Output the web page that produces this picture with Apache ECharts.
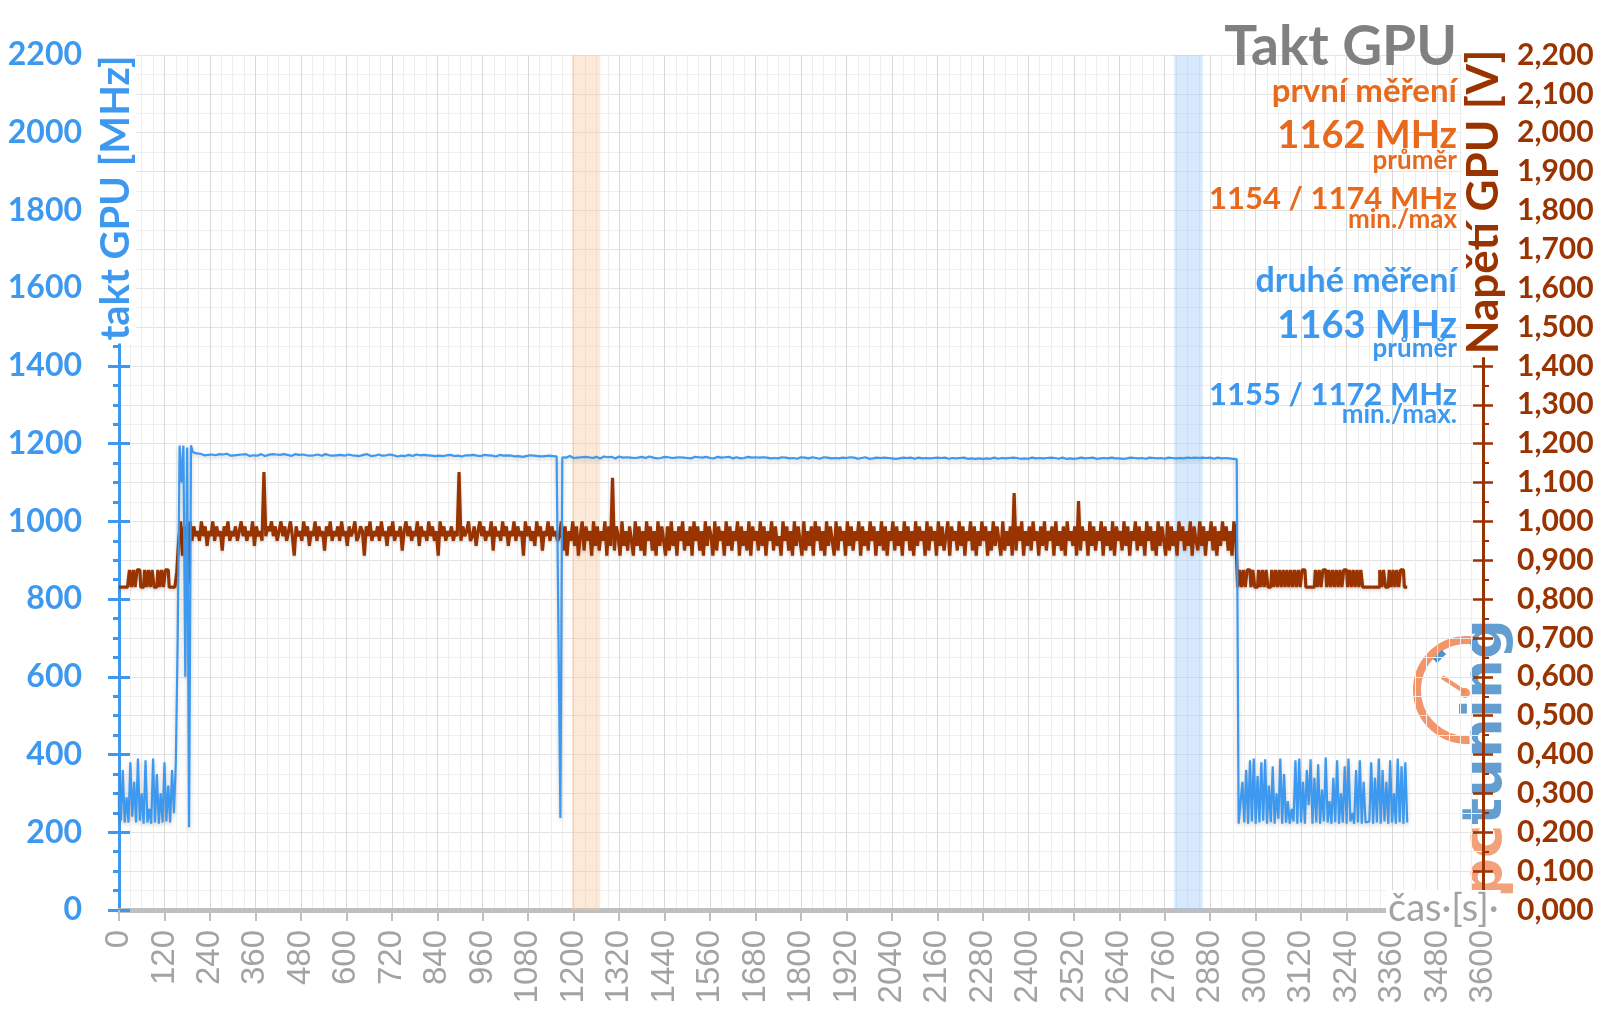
<!DOCTYPE html>
<html><head><meta charset="utf-8">
<script src="https://cdn.jsdelivr.net/npm/echarts@6/dist/echarts.min.js"></script>
<style>html,body{margin:0;padding:0;background:#fff}#c{width:1600px;height:1009px}</style>
</head><body><div id="c"></div>
<script>
// ---- data (sample step in seconds) ----
const STEP = 5;
const xTickInterval = 120;
// GPU clock, second measurement [MHz], t = 0, 5, 10 ... 3400 s
const clockMHz = [
310,230,360,225,290,225,380,240,330,225,390,230,300,222,385,225,260,222,390,225,350,222,300,225,380,228,320,225,360,250,
380,700,1195,1100,1195,600,1190,213,1196,1178,
1178,1175,1173,1174,1172,1170,1173,1171,1169,1172,1174,1170,1171,1173,1168,1172,1170,1174,1171,1169,1172,1170,1173,1171,
1170,1172,1169,1173,1171,1168,1172,1170,1174,1169,1171,1173,1170,1168,1172,1171,1169,1173,1170,1172,1168,1171,1170,1173,
1169,1171,1172,1168,1170,1173,1169,1171,1170,1172,1168,1170,1173,1169,1171,1170,1168,1172,1170,1169,1171,1173,1168,1170,
1171,1169,1172,1170,1168,1171,1173,1169,1170,1172,1168,1170,1171,1169,1172,1168,1170,1171,1169,1173,1170,1168,1171,1169,
1170,1172,1168,1169,1171,1170,1168,1172,1169,1170,1171,1167,1170,1169,1172,1168,1170,1171,1169,1168,1170,1172,1169,1170,
1168,1171,1169,1170,1167,1169,1171,1168,1170,1169,1172,1168,1169,1170,1167,1171,1169,1168,1170,1169,1171,1167,1169,1170,
1168,1170,1169,1171,1167,1169,1170,1168,1169,1171,1167,1170,1168,1169,1170,1167,1169,1171,1168,1169,1167,1170,1168,1169,
1170,1167,1169,1168,1170,1166,1169,1168,1167,1170,1168,1169,1166,1168,1170,1167,1169,1168,1166,1169,1167,1168,1170,1167,
1168,
237,
1165,1167,1164,1166,1168,1165,1163,1166,1164,1167,1165,1163,1166,1164,1165,1167,1163,1165,1166,1164,1162,1165,1167,1164,
1165,1163,1166,1164,1162,1165,1167,1163,1164,1166,1165,1162,1164,1166,1163,1165,1164,1162,1166,1164,1163,1165,1167,1163,
1164,1166,1162,1165,1163,1164,1166,1162,1165,1164,1163,1166,1164,1162,1165,1163,1164,1166,1163,1165,1162,1164,1166,1163,
1165,1163,1164,1162,1166,1164,1163,1165,1162,1164,1166,1163,1164,1162,1165,1163,1166,1164,1162,1163,1165,1164,1162,1165,
1163,1164,1166,1162,1164,1163,1165,1162,1164,1163,1165,1161,1164,1163,1162,1165,1163,1164,1162,1163,1165,1162,1164,1163,
1162,1165,1163,1164,1161,1163,1165,1162,1164,1163,1162,1164,1165,1162,1163,1164,1161,1163,1165,1162,1164,1163,1162,1164,
1163,1165,1162,1163,1164,1161,1163,1162,1165,1163,1164,1162,1161,1164,1163,1162,1165,1163,1161,1164,1162,1163,1164,1162,
1163,1161,1164,1162,1163,1165,1162,1163,1161,1164,1162,1163,1164,1161,1163,1162,1164,1163,1161,1162,1164,1163,1162,1161,
1163,1164,1162,1161,1163,1162,1164,1161,1163,1162,1164,1163,1161,1162,1163,1164,1162,1161,1163,1162,1164,1162,1161,1163,
1162,1164,1161,1163,1162,1163,1161,1164,1162,1163,1161,1162,1164,1163,1161,1162,1163,1164,1162,1161,1163,1162,1164,1161,
1163,1162,1161,1164,1162,1163,1161,1162,1164,1163,1162,1161,1163,1164,1162,1161,1163,1162,1164,1161,1163,1162,1161,1163,
1164,1162,1161,1163,1162,1164,1161,1163,1162,1161,1164,1163,1162,1161,1163,1162,1164,1162,1161,1163,1162,1164,1163,1161,
1162,1163,1164,1161,1162,1163,1162,1164,1161,1163,1162,1161,1164,1162,1163,1161,1162,1164,1163,1162,1161,1163,1164,1162,
1163,1161,1162,1164,1163,1162,1161,1163,1164,1162,1163,1161,1162,1164,1163,1165,1162,1163,1164,1162,1163,1161,1164,1162,
1163,1162,1164,1161,1163,1162,1164,1163,1161,1162,1164,1163,1162,1161,1163,1164,1162,1163,1161,1162,1160,
222,
222,330,225,360,222,385,228,390,222,345,225,380,230,388,222,320,226,370,222,300,235,390,222,350,
225,280,222,260,228,385,222,390,225,330,222,360,270,388,222,340,225,375,222,310,228,392,225,280,
222,340,226,385,222,300,225,370,222,390,228,250,222,360,225,385,222,330,225,222,228,380,222,340,
225,390,222,360,228,330,222,385,225,300,222,390,226,370,222,380,225
];
// GPU voltage [mV], same time base
const voltageMV = [
831,831,831,831,831,831,875,831,875,831,875,875,831,831,875,831,875,831,875,831,831,875,831,875,831,875,875,831,831,831,
831,870,950,1000,912,987,870,840,1000,950,
987,962,975,950,1000,962,987,937,975,962,1000,950,987,962,975,925,987,962,1000,950,975,962,987,950,
975,1000,962,987,950,975,962,1000,937,987,962,975,950,1127,962,987,975,1000,962,987,950,975,1000,962,
987,950,975,1000,962,912,987,962,975,950,1000,962,987,937,975,962,1000,950,987,962,975,925,987,962,
1000,950,975,962,987,950,1000,962,975,937,987,962,975,1000,950,962,987,975,912,987,962,1000,950,975,
962,987,950,1000,962,975,937,987,962,1000,950,975,962,987,925,975,1000,962,987,950,975,962,1000,937,
987,962,975,950,1000,962,987,950,975,912,1000,962,987,950,975,962,987,950,975,962,1127,950,987,962,
975,1000,950,962,987,937,975,1000,962,987,950,975,962,1000,925,987,962,975,950,1000,962,987,937,975,
962,1000,950,987,962,975,912,1000,962,987,950,975,937,1000,962,987,925,975,962,1000,950,987,962,975,
950,
962,
1000,925,987,912,975,950,1000,937,987,912,962,1000,925,987,950,975,912,1000,937,987,925,975,950,1000,
912,987,937,1112,925,987,962,912,1000,937,975,925,987,950,912,1000,937,987,925,975,912,1000,950,987,
925,975,912,1000,937,987,950,912,987,925,1000,937,975,912,987,950,1000,925,975,937,987,912,1000,950,
987,925,975,912,1000,937,987,962,912,1000,925,987,950,975,912,1000,937,987,925,975,950,1000,912,987,
937,975,925,1000,912,987,950,975,925,1000,937,987,912,975,950,1000,925,987,937,962,912,1000,950,987,
925,975,912,1000,937,987,950,912,1000,925,975,937,987,912,1000,950,987,925,975,912,1000,937,987,950,
912,1000,925,987,950,975,912,1000,937,987,925,975,950,1000,912,987,937,975,925,1000,950,987,912,975,
937,1000,925,987,912,975,950,1000,925,987,937,975,912,1000,950,987,925,975,912,1000,937,987,950,975,
912,1000,925,987,950,975,912,1000,937,987,925,962,1000,912,987,950,975,925,1000,937,987,912,975,950,
1000,925,987,912,975,937,1000,950,987,912,975,925,1000,937,987,950,912,1000,925,975,937,987,912,1073,
925,987,950,1000,912,975,937,987,925,1000,950,975,912,987,937,1000,925,975,950,987,912,1000,937,975,
925,987,912,1000,950,975,937,987,912,1052,925,987,950,975,912,1000,937,987,925,975,950,1000,912,987,
937,975,925,1000,912,987,950,975,925,1000,937,987,912,975,950,1000,925,987,937,975,912,1000,950,987,
925,975,912,1000,937,987,950,912,1000,925,987,937,975,912,1000,950,987,925,975,937,1000,912,987,950,
925,1000,937,987,912,975,950,1000,925,987,912,975,937,1000,950,987,925,975,912,1000,962,
831,
875,831,875,831,875,875,831,875,831,831,875,831,875,831,875,831,831,875,831,875,831,875,831,875,
831,875,831,875,831,875,831,875,831,875,875,831,831,831,831,831,875,831,875,831,875,875,831,875,
831,875,831,875,831,875,831,875,875,831,875,831,875,831,875,831,875,831,831,831,831,831,831,831,
831,831,875,831,875,831,831,875,831,875,831,875,831,875,875,831,831
];
// highlighted intervals [s]
const orangeBand = [1195, 1270];
const blueBand = [2785, 2860];
// annotation texts
const notes = [
  {t:'Takt GPU', base:65, size:55, c:'gray'},
  {t:'první měření', base:102, size:33, c:'orange'},
  {t:'1162 MHz', base:148, size:38, c:'orange'},
  {t:'průměr', base:169, size:26, c:'orange'},
  {t:'1154 / 1174 MHz', base:209, size:31, c:'orange'},
  {t:'min./max', base:228, size:26, c:'orange'},
  {t:'druhé měření', base:292, size:34, c:'blue'},
  {t:'1163 MHz', base:338, size:38, c:'blue'},
  {t:'průměr', base:357, size:26, c:'blue'},
  {t:'1155 / 1172 MHz', base:405, size:31, c:'blue'},
  {t:'min./max.', base:423, size:26, c:'blue'}
];

const BLUE = '#3d98f0', BROWN = '#993300', ORANGE = '#e8691c', GRAY = '#808080';
const COLORS = {gray: GRAY, orange: ORANGE, blue: BLUE};

const clockData = clockMHz.map((v, i) => [i * STEP, v]);
const voltData = voltageMV.map((v, i) => [i * STEP, v / 1000]);

const chart = echarts.init(document.getElementById('c'));

const noteGraphics = notes.map(n => ({
  type: 'text', x: 1457, y: n.base - 0.32 * n.size, z: 20,
  style: {text: n.t, fill: COLORS[n.c], font: 'bold ' + n.size + 'px Lato', align: 'right', verticalAlign: 'middle'}
}));

chart.setOption({
  animation: false,
  grid: {left: 119, right: 117, top: 55, bottom: 99, outerBoundsMode: 'none'},
  xAxis: {
    type: 'value', min: 0, max: 3600, interval: xTickInterval,
    axisLine: {show: true, lineStyle: {color: '#bfbfbf', width: 5}},
    axisTick: {show: true, length: 11, lineStyle: {color: '#bfbfbf', width: 2}},
    axisLabel: {rotate: 90, margin: 20, color: '#a3a3a3', fontFamily: 'Liberation Sans', fontSize: 33,
      formatter: v => String(v)},
    splitLine: {show: true, lineStyle: {color: '#d9d9d9', width: 1}},
    minorTick: {show: false, splitNumber: 4},
    minorSplitLine: {show: true, lineStyle: {color: '#eeeeee', width: 1}}
  },
  yAxis: [
    {
      type: 'value', position: 'left', min: 0, max: 2200, interval: 200,
      axisLine: {show: true, lineStyle: {color: BLUE, width: 3}},
      axisTick: {show: true, length: 11, lineStyle: {color: BLUE, width: 3}},
      minorTick: {show: true, splitNumber: 4, length: 6, lineStyle: {color: BLUE, width: 3}},
      axisLabel: {margin: 37, color: BLUE, fontFamily: 'Lato', fontWeight: 'bold', fontSize: 32,
        formatter: v => String(v)},
      splitLine: {show: true, lineStyle: {color: '#d2d2d2', type: 'dashed', width: 1}},
      minorSplitLine: {show: true, lineStyle: {color: '#f0f0f0', width: 1}}
    },
    {
      type: 'value', position: 'right', min: 0, max: 2.2, interval: 0.1,
      axisLine: {show: true, lineStyle: {color: BROWN, width: 3}},
      axisTick: {show: true, length: 10, lineStyle: {color: BROWN, width: 2.5}},
      minorTick: {show: true, splitNumber: 2, length: 6, lineStyle: {color: BROWN, width: 2}},
      axisLabel: {margin: 34, color: BROWN, fontFamily: 'Lato', fontWeight: 'bold', fontSize: 30,
        formatter: v => v.toFixed(3).replace('.', ',')},
      splitLine: {show: true, lineStyle: {color: '#e4e4e4', width: 1}}
    },
    {
      type: 'value', position: 'left', min: 0, max: 2200, interval: 200,
      axisLine: {show: false}, axisLabel: {show: false}, splitLine: {show: false},
      axisTick: {show: true, inside: true, length: 11, lineStyle: {color: BLUE, width: 3}}
    },
    {
      type: 'value', position: 'right', min: 0, max: 2.2, interval: 0.1,
      axisLine: {show: false}, axisLabel: {show: false}, splitLine: {show: false},
      axisTick: {show: true, inside: true, length: 10, lineStyle: {color: BROWN, width: 2.5}}
    }
  ],
  series: [
    {
      type: 'line', data: [], yAxisIndex: 0, z: 1, silent: true,
      markArea: {silent: true, data: [
        [{xAxis: orangeBand[0], itemStyle: {color: 'rgba(250,196,150,0.38)'}}, {xAxis: orangeBand[1]}],
        [{xAxis: blueBand[0], itemStyle: {color: 'rgba(150,198,250,0.38)'}}, {xAxis: blueBand[1]}]
      ]}
    },
    {
      type: 'line', data: voltData, yAxisIndex: 1, symbol: 'none', step: 'middle', z: 3, silent: true,
      lineStyle: {color: BROWN, width: 3.2, shadowColor: 'rgba(0,0,0,0.15)', shadowBlur: 3, shadowOffsetY: 2}
    },
    {
      type: 'line', data: clockData, yAxisIndex: 0, symbol: 'none', z: 4, silent: true,
      lineStyle: {color: BLUE, width: 2.2, shadowColor: 'rgba(0,0,0,0.2)', shadowBlur: 4, shadowOffsetY: 2}
    }
  ],
  graphic: [
    // logo (behind axes)
    {type: 'arc', z: -1, shape: {cx: 1467, cy: 690, r: 50, startAngle: Math.PI / 2 - 0.05, endAngle: Math.PI * 1.5 + 0.1, clockwise: true},
      style: {stroke: '#f08a5a', lineWidth: 8, fill: null, opacity: 0.9}},
    {type: 'line', z: -1, shape: {x1: 1465, y1: 692, x2: 1442, y2: 677}, style: {stroke: '#f08a5a', lineWidth: 4, opacity: 0.9}},
    {type: 'circle', z: -1, shape: {cx: 1465, cy: 693, r: 5}, style: {fill: '#f08a5a', opacity: 0.9}},
    {type: 'line', z: -1, shape: {x1: 1435, y1: 661, x2: 1444, y2: 652}, style: {stroke: '#3d86c6', lineWidth: 6, opacity: 0.9}},
    {type: 'text', z: -1, x: 1486, y: 898, rotation: Math.PI / 2,
      style: {text: '{a|pc}{b|tuning}', font: 'bold 56px "DejaVu Sans"', align: 'left', verticalAlign: 'middle', opacity: 0.8,
        rich: {a: {fill: '#f08a5a', font: 'bold 56px "DejaVu Sans"'}, b: {fill: '#3d86c6', font: 'bold 56px "DejaVu Sans"'}}}},
    // axis names
    {type: 'text', z: 20, x: 116, y: 198, rotation: Math.PI / 2,
      style: {text: 'takt GPU [MHz]', fill: BLUE, font: 'bold 40px Lato', align: 'center', verticalAlign: 'middle',
        backgroundColor: '#fff', padding: [0, 3]}},
    {type: 'text', z: 20, x: 1484, y: 202, rotation: Math.PI / 2,
      style: {text: 'Napětí GPU [V]', fill: BROWN, font: 'bold 44px Lato', align: 'center', verticalAlign: 'middle',
        backgroundColor: '#fff', padding: [0, 3]}},
    {type: 'text', z: 20, x: 1386, y: 909,
      style: {text: 'čas·[s]·', fill: '#a3a3a3', font: '38px Lato', align: 'left', verticalAlign: 'middle',
        backgroundColor: '#fff', padding: [0, 2]}}
  ].concat(noteGraphics)
});
</script>
</body></html>
